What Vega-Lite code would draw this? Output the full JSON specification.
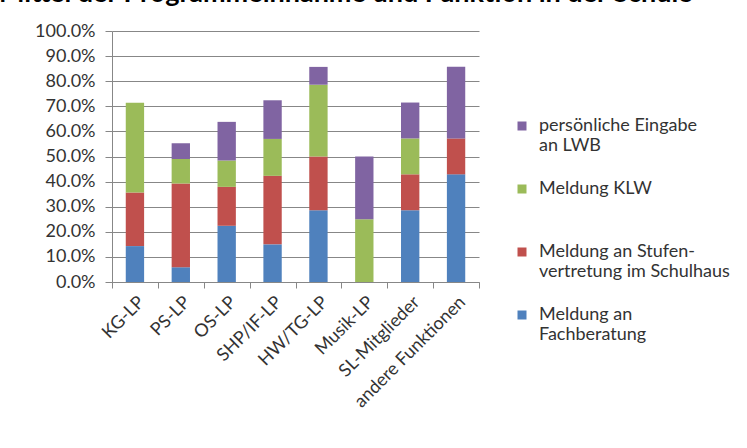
{
  "$schema": "https://vega.github.io/schema/vega-lite/v6.json",
  "autosize": "none",
  "padding": {"left": 112, "top": 31, "right": 268, "bottom": 166},
  "width": 367,
  "height": 251,
  "background": "white",
  "title": {
    "text": "Mittel der Programmeinnahme und Funktion in der Schule",
    "anchor": "start",
    "frame": "group",
    "font": "Lato",
    "fontSize": 27,
    "fontWeight": "bold",
    "color": "black",
    "dx": -113,
    "dy": -10
  },
  "data": {
    "values": [
      {"Funktion": "KG-LP", "Kanal": "Meldung an Fachberatung", "k": 1, "Anteil": 0.143},
      {"Funktion": "KG-LP", "Kanal": "Meldung an Stufenvertretung im Schulhaus", "k": 2, "Anteil": 0.214},
      {"Funktion": "KG-LP", "Kanal": "Meldung KLW", "k": 3, "Anteil": 0.357},
      {"Funktion": "PS-LP", "Kanal": "Meldung an Fachberatung", "k": 1, "Anteil": 0.059},
      {"Funktion": "PS-LP", "Kanal": "Meldung an Stufenvertretung im Schulhaus", "k": 2, "Anteil": 0.333},
      {"Funktion": "PS-LP", "Kanal": "Meldung KLW", "k": 3, "Anteil": 0.098},
      {"Funktion": "PS-LP", "Kanal": "persönliche Eingabe an LWB", "k": 4, "Anteil": 0.063},
      {"Funktion": "OS-LP", "Kanal": "Meldung an Fachberatung", "k": 1, "Anteil": 0.224},
      {"Funktion": "OS-LP", "Kanal": "Meldung an Stufenvertretung im Schulhaus", "k": 2, "Anteil": 0.155},
      {"Funktion": "OS-LP", "Kanal": "Meldung KLW", "k": 3, "Anteil": 0.105},
      {"Funktion": "OS-LP", "Kanal": "persönliche Eingabe an LWB", "k": 4, "Anteil": 0.154},
      {"Funktion": "SHP/IF-LP", "Kanal": "Meldung an Fachberatung", "k": 1, "Anteil": 0.150},
      {"Funktion": "SHP/IF-LP", "Kanal": "Meldung an Stufenvertretung im Schulhaus", "k": 2, "Anteil": 0.273},
      {"Funktion": "SHP/IF-LP", "Kanal": "Meldung KLW", "k": 3, "Anteil": 0.147},
      {"Funktion": "SHP/IF-LP", "Kanal": "persönliche Eingabe an LWB", "k": 4, "Anteil": 0.154},
      {"Funktion": "HW/TG-LP", "Kanal": "Meldung an Fachberatung", "k": 1, "Anteil": 0.286},
      {"Funktion": "HW/TG-LP", "Kanal": "Meldung an Stufenvertretung im Schulhaus", "k": 2, "Anteil": 0.214},
      {"Funktion": "HW/TG-LP", "Kanal": "Meldung KLW", "k": 3, "Anteil": 0.286},
      {"Funktion": "HW/TG-LP", "Kanal": "persönliche Eingabe an LWB", "k": 4, "Anteil": 0.071},
      {"Funktion": "Musik-LP", "Kanal": "Meldung KLW", "k": 3, "Anteil": 0.25},
      {"Funktion": "Musik-LP", "Kanal": "persönliche Eingabe an LWB", "k": 4, "Anteil": 0.25},
      {"Funktion": "SL-Mitglieder", "Kanal": "Meldung an Fachberatung", "k": 1, "Anteil": 0.286},
      {"Funktion": "SL-Mitglieder", "Kanal": "Meldung an Stufenvertretung im Schulhaus", "k": 2, "Anteil": 0.143},
      {"Funktion": "SL-Mitglieder", "Kanal": "Meldung KLW", "k": 3, "Anteil": 0.143},
      {"Funktion": "SL-Mitglieder", "Kanal": "persönliche Eingabe an LWB", "k": 4, "Anteil": 0.143},
      {"Funktion": "andere Funktionen", "Kanal": "Meldung an Fachberatung", "k": 1, "Anteil": 0.429},
      {"Funktion": "andere Funktionen", "Kanal": "Meldung an Stufenvertretung im Schulhaus", "k": 2, "Anteil": 0.143},
      {"Funktion": "andere Funktionen", "Kanal": "persönliche Eingabe an LWB", "k": 4, "Anteil": 0.286}
    ]
  },
  "mark": {"type": "bar", "width": {"band": 0.4}},
  "encoding": {
    "x": {
      "field": "Funktion",
      "type": "nominal",
      "sort": null,
      "scale": {"paddingInner": 0, "paddingOuter": 0},
      "axis": {
        "title": null,
        "labelAngle": -45,
        "labelFontSize": 18,
        "labelPadding": 5,
        "tickBand": "extent",
        "tickSize": 6
      }
    },
    "y": {
      "field": "Anteil",
      "type": "quantitative",
      "stack": "zero",
      "scale": {"domain": [0, 1], "nice": false},
      "axis": {
        "title": null,
        "values": [0, 0.1, 0.2, 0.3, 0.4, 0.5, 0.6, 0.7, 0.8, 0.9, 1],
        "format": ".1%",
        "labelFontSize": 18,
        "labelPadding": 10,
        "tickSize": 7
      }
    },
    "color": {
      "field": "Kanal",
      "type": "nominal",
      "scale": {
        "domain": ["persönliche Eingabe an LWB", "Meldung KLW", "Meldung an Stufenvertretung im Schulhaus", "Meldung an Fachberatung"],
        "range": ["#8064A2", "#9BBB59", "#C0504D", "#4F81BD"]
      },
      "legend": {
        "title": null,
        "orient": "none",
        "legendX": 401,
        "legendY": 86,
        "padding": 0,
        "symbolType": "square",
        "symbolSize": 81,
        "symbolStrokeWidth": 0,
        "labelFontSize": 18,
        "labelOffset": 8,
        "labelLimit": 300,
        "gridAlign": "all",
        "rowPadding": 25,
        "labelExpr": "datum.label == 'persönliche Eingabe an LWB' ? ['persönliche Eingabe', 'an LWB'] : datum.label == 'Meldung an Stufenvertretung im Schulhaus' ? ['Meldung an  Stufen-', 'vertretung im Schulhaus'] : datum.label == 'Meldung an Fachberatung' ? ['Meldung an', 'Fachberatung'] : datum.label"
      }
    },
    "order": {"field": "k", "type": "quantitative"}
  },
  "config": {
    "font": "Lato",
    "view": {"stroke": null},
    "axis": {
      "labelFont": "Lato",
      "labelColor": "#333333",
      "domainColor": "#878787",
      "tickColor": "#878787",
      "gridColor": "#878787",
      "gridOpacity": 1,
      "domainWidth": 1,
      "tickWidth": 1
    },
    "axisX": {"grid": false},
    "legend": {"labelFont": "Lato", "labelColor": "#333333"}
  }
}
